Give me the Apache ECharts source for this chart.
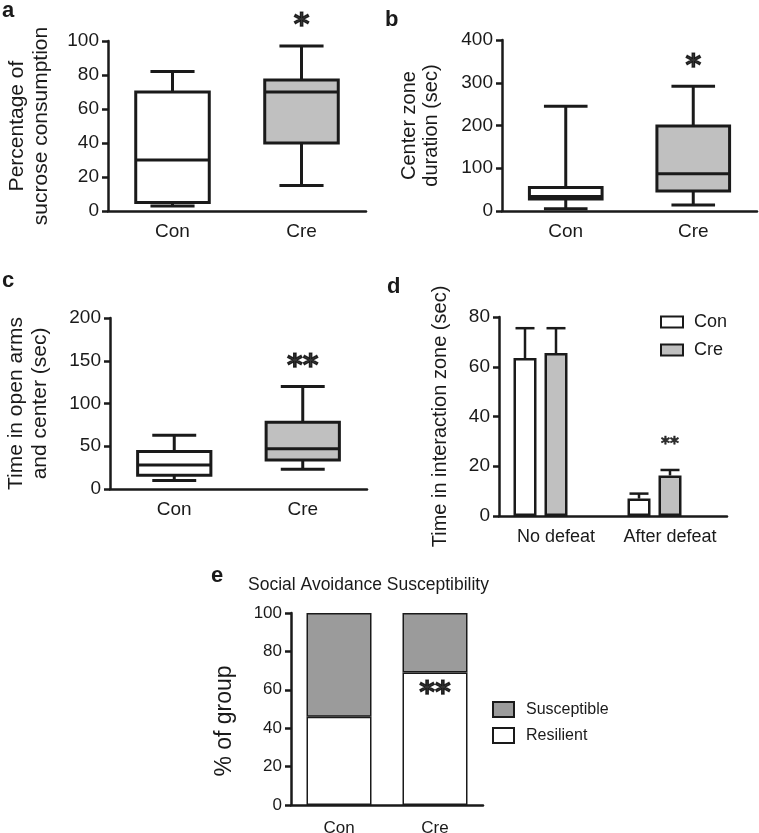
<!DOCTYPE html>
<html>
<head>
<meta charset="utf-8">
<script src="https://cdn.jsdelivr.net/npm/echarts@6/dist/echarts.min.js"></script>
<style>
html,body{margin:0;padding:0;background:#fff;}
#chart{width:759px;height:833px;}
</style>
</head>
<body>
<div id="chart"></div>
<script>
// ---------- DATA ----------
const boxCategories = ['Con', 'Cre'];
// [min, Q1, median, Q3, max]
const sucroseCon = [3, 5, 30, 70, 82];
const sucroseCre = [15, 40, 70, 77, 97];
const centerZoneCon = [5, 28, 34, 55, 245];
const centerZoneCre = [14, 47, 87, 199, 292];
const openArmsCon = [10, 16, 28, 44, 63];
const openArmsCre = [23, 34, 47, 78, 120];

const defeatCategories = ['No defeat', 'After defeat'];
const interactionCon = [63.5, 7];
const interactionCre = [65.5, 16.3];
const interactionConUpper = [75.5, 9];
const interactionCreUpper = [75.5, 18.5];

const groupCategories = ['Con', 'Cre'];
const resilient = [46, 69];
const susceptible = [54, 31];

const yTicksA = [0, 100, 20];
const yTicksB = [0, 400, 100];
const yTicksC = [0, 200, 50];
const yTicksD = [0, 80, 20];
const yTicksE = [0, 100, 20];

// significance marks: [category, value, text]
const starA = ['Cre', 112, '*'];
const starB = ['Cre', 351, '*'];
const starC = ['Cre', 149, '**'];
const starD = ['After defeat', 30, '**'];
const starE = ['Cre', 61, '**'];

// ---------- STYLE ----------
const FONT = 'Liberation Sans, Arial, sans-serif';
const INK = '#1a1a1a';
const GRAY_BOX = '#c0c0c0';
const GRAY_E = '#9b9b9b';
const boxFills = ['#ffffff', GRAY_BOX];

function xAx(gridIndex, data, fontSize, margin) {
  return {
    type: 'category', gridIndex, data,
    axisLine: {lineStyle: {color: INK, width: 2.5}},
    axisTick: {alignWithLabel: true, length: 6, lineStyle: {color: INK, width: 2.5}},
    axisLabel: {color: INK, fontSize, fontFamily: FONT, margin, interval: 0},
    splitLine: {show: false}
  };
}
function yAx(gridIndex, ticks, name, nameGap, nameSize, lineHeight, labelSize, extra) {
  return Object.assign({
    type: 'value', gridIndex, min: ticks[0], max: ticks[1], interval: ticks[2],
    name, nameLocation: 'middle', nameGap,
    nameTextStyle: {color: INK, fontSize: nameSize, fontFamily: FONT, lineHeight},
    axisLine: {show: true, lineStyle: {color: INK, width: 2.5}},
    axisTick: {show: true, length: 6, lineStyle: {color: INK, width: 2.5}},
    axisLabel: {color: INK, fontSize: labelSize, fontFamily: FONT, margin: 9},
    splitLine: {show: false}
  }, extra || {});
}

function boxSeries(idx, con, cre) {
  return {
    type: 'custom', name: 'box' + idx, xAxisIndex: idx, yAxisIndex: idx, z: 3,
    data: [[0].concat(con), [1].concat(cre)],
    renderItem: function (params, api) {
      const c = api.value(0);
      const pMin = api.coord([c, api.value(1)]);
      const pQ1 = api.coord([c, api.value(2)]);
      const pMed = api.coord([c, api.value(3)]);
      const pQ3 = api.coord([c, api.value(4)]);
      const pMax = api.coord([c, api.value(5)]);
      const band = api.size([1, 0])[0];
      const bw = band * 0.57;
      const cw = bw * 0.6;
      const x = pMed[0];
      const ls = {stroke: INK, lineWidth: 3, fill: null};
      return {
        type: 'group', children: [
          {type: 'line', shape: {x1: x, y1: pQ3[1], x2: x, y2: pMax[1]}, style: ls},
          {type: 'line', shape: {x1: x - cw / 2, y1: pMax[1], x2: x + cw / 2, y2: pMax[1]}, style: ls},
          {type: 'line', shape: {x1: x, y1: pQ1[1], x2: x, y2: pMin[1]}, style: ls},
          {type: 'line', shape: {x1: x - cw / 2, y1: pMin[1], x2: x + cw / 2, y2: pMin[1]}, style: ls},
          {type: 'rect', shape: {x: x - bw / 2, y: pQ3[1], width: bw, height: pQ1[1] - pQ3[1]},
            style: {stroke: INK, lineWidth: 3, fill: boxFills[params.dataIndex]}},
          {type: 'line', shape: {x1: x - bw / 2, y1: pMed[1], x2: x + bw / 2, y2: pMed[1]}, style: ls}
        ]
      };
    }
  };
}

function starSeries(idx, star, fontSize) {
  return {
    type: 'scatter', name: 'star' + idx, xAxisIndex: idx, yAxisIndex: idx, clip: false,
    symbolSize: 1, itemStyle: {color: 'rgba(0,0,0,0)'}, silent: true, z: 5,
    data: [[star[0], star[1]]],
    label: {show: true, position: 'inside', formatter: star[2], color: '#000',
      textBorderColor: '#000', textBorderWidth: fontSize > 20 ? 1.2 : 0.6,
      fontSize, fontFamily: 'DejaVu Sans, sans-serif', fontWeight: 'bold',
      offset: [0, Math.round(fontSize * 0.2)]}
  };
}

// bar layout constants for panel d
const BAR_W = 23, BAR_GAP = 8, BAR_COUNT = 3;

function errSeries(values, uppers, k) {
  return {
    type: 'custom', name: 'err' + k, xAxisIndex: 3, yAxisIndex: 3, z: 4,
    data: values.map((v, i) => [i, v, uppers[i]]),
    renderItem: function (params, api) {
      const total = BAR_COUNT * BAR_W + (BAR_COUNT - 1) * BAR_GAP;
      const off = -total / 2 + k * (BAR_W + BAR_GAP) + BAR_W / 2;
      const pBase = api.coord([api.value(0), api.value(1)]);
      const pTop = api.coord([api.value(0), api.value(2)]);
      const x = pBase[0] + off;
      const ls = {stroke: INK, lineWidth: 2.5};
      return {type: 'group', children: [
        {type: 'line', shape: {x1: x, y1: pBase[1], x2: x, y2: pTop[1]}, style: ls},
        {type: 'line', shape: {x1: x - 9.5, y1: pTop[1], x2: x + 9.5, y2: pTop[1]}, style: ls}
      ]};
    }
  };
}

const barBorder = {borderColor: INK, borderWidth: 2.5};

const option = {
  backgroundColor: '#fff',
  animation: false,
  textStyle: {fontFamily: FONT},
  grid: [
    {left: 108, top: 41, width: 258, height: 170, outerBoundsMode: 'none'},
    {left: 502, top: 40, width: 255, height: 171, outerBoundsMode: 'none'},
    {left: 110, top: 318, width: 257, height: 171, outerBoundsMode: 'none'},
    {left: 499, top: 317, width: 228, height: 199, outerBoundsMode: 'none'},
    {left: 291, top: 613, width: 192, height: 192, outerBoundsMode: 'none'}
  ],
  xAxis: [
    xAx(0, boxCategories, 19, 11),
    xAx(1, boxCategories, 19, 11),
    xAx(2, boxCategories, 19, 11),
    xAx(3, defeatCategories, 18, 12),
    xAx(4, groupCategories, 17, 15)
  ],
  yAxis: [
    yAx(0, yTicksA, 'Percentage of\nsucrose consumption', 55, 21, 24, 19),
    yAx(1, yTicksB, 'Center zone\nduration (sec)', 60, 20, 22, 19),
    yAx(2, yTicksC, 'Time in open arms\nand center (sec)', 58, 21, 24, 19),
    yAx(3, yTicksD, 'Time in interaction zone (sec)', 48, 20, 22, 19),
    yAx(4, yTicksE, '% of group', 54, 23, 24, 17,
      {nameTextStyle: {color: INK, fontSize: 23, fontFamily: FONT, lineHeight: 24, padding: [0, 24, 0, 0]}})
  ],
  legend: [
    {data: ['Con', 'Cre'], orient: 'vertical', left: 660, top: 313, padding: 0, itemWidth: 22, itemHeight: 11,
      itemGap: 10, icon: 'rect', selectedMode: false,
      textStyle: {color: INK, fontSize: 18, fontFamily: FONT, padding: [0, 0, 0, 6]}},
    {data: ['Susceptible', 'Resilient'], orient: 'vertical', left: 492, top: 701, padding: 0, itemWidth: 21, itemHeight: 15,
      itemGap: 9, icon: 'rect', selectedMode: false,
      textStyle: {color: INK, fontSize: 16, fontFamily: FONT, padding: [0, 0, 0, 7]}}
  ],
  graphic: [
    {type: 'text', left: 2, top: 0, style: {text: 'a', font: 'bold 22px ' + FONT, fill: INK}},
    {type: 'text', left: 385, top: 9, style: {text: 'b', font: 'bold 22px ' + FONT, fill: INK}},
    {type: 'text', left: 2, top: 270, style: {text: 'c', font: 'bold 22px ' + FONT, fill: INK}},
    {type: 'text', left: 387, top: 276, style: {text: 'd', font: 'bold 22px ' + FONT, fill: INK}},
    {type: 'text', left: 211, top: 565, style: {text: 'e', font: 'bold 22px ' + FONT, fill: INK}},
    {type: 'text', left: 248, top: 576, style: {text: 'Social Avoidance Susceptibility', font: '17.5px ' + FONT, fill: INK}}
  ],
  series: [
    boxSeries(0, sucroseCon, sucroseCre),
    boxSeries(1, centerZoneCon, centerZoneCre),
    boxSeries(2, openArmsCon, openArmsCre),
    {type: 'bar', name: 'Con', xAxisIndex: 3, yAxisIndex: 3, data: interactionCon,
      barWidth: BAR_W, barGap: (BAR_GAP / BAR_W * 100) + '%', itemStyle: Object.assign({color: '#ffffff'}, barBorder)},
    {type: 'bar', name: 'Cre', xAxisIndex: 3, yAxisIndex: 3, data: interactionCre,
      barWidth: BAR_W, barGap: (BAR_GAP / BAR_W * 100) + '%', itemStyle: Object.assign({color: GRAY_BOX}, barBorder)},
    {type: 'bar', name: 'spacer', xAxisIndex: 3, yAxisIndex: 3, data: ['-', '-'],
      barWidth: BAR_W, barGap: (BAR_GAP / BAR_W * 100) + '%', itemStyle: {color: 'rgba(0,0,0,0)'}},
    errSeries(interactionCon, interactionConUpper, 0),
    errSeries(interactionCre, interactionCreUpper, 1),
    {type: 'bar', name: 'Resilient', xAxisIndex: 4, yAxisIndex: 4, stack: 'grp', data: resilient,
      barWidth: 65, itemStyle: {color: '#ffffff', borderColor: INK, borderWidth: 1.5}},
    {type: 'bar', name: 'Susceptible', xAxisIndex: 4, yAxisIndex: 4, stack: 'grp', data: susceptible,
      barWidth: 65, itemStyle: {color: GRAY_E, borderColor: INK, borderWidth: 1.5}},
    starSeries(0, starA, 30),
    starSeries(1, starB, 30),
    starSeries(2, starC, 30),
    starSeries(3, starD, 17),
    starSeries(4, starE, 30)
  ]
};

const chart = echarts.init(document.getElementById('chart'), null, {renderer: 'canvas'});
chart.setOption(option);
</script>
</body>
</html>
